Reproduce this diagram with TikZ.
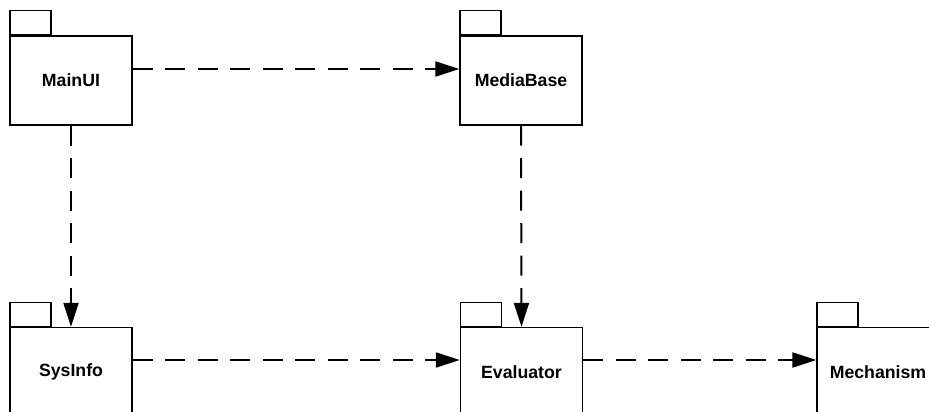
\documentclass[tikz,border=0pt]{standalone}
\usepackage{fontspec}
\setmainfont{Liberation Sans}
\usetikzlibrary{arrows.meta}
\begin{document}
\begin{tikzpicture}[x=1pt,y=-1pt,
  pkgbody/.style={draw, line width=1.3pt, minimum width=122pt, minimum height=89pt,
    inner sep=0pt, font=\fontsize{17.7}{20}\selectfont\bfseries},
  pkgtab/.style={draw, line width=1.3pt, minimum width=41pt, minimum height=24pt,
    inner sep=0pt, anchor=south west},
  dep/.style={line width=2pt, dash pattern=on 20pt off 12.5pt,
    -{Triangle[length=24pt,width=15pt]}}]
\useasboundingbox (0,0) rectangle (929,412);
% packages: body with the tab on its upper-left corner
\node[pkgbody] (MainUI) at (71,80.5) {MainUI};
\node[pkgtab] (MainUItab) at (MainUI.north west) {};
\node[pkgbody] (MediaBase) at (521,80.5) {MediaBase};
\node[pkgtab] (MediaBasetab) at (MediaBase.north west) {};
\node[pkgbody] (SysInfo) at (71,372) {SysInfo};
\node[pkgtab] (SysInfotab) at (SysInfo.north west) {};
\node[pkgbody] (Evaluator) at (521.5,372) {Evaluator};
\node[pkgtab] (Evaluatortab) at (Evaluator.north west) {};
\node[pkgbody] (Mechanism) at (878,372) {Mechanism};
\node[pkgtab] (Mechanismtab) at (Mechanism.north west) {};
% levels of the horizontal dependencies
\coordinate (row1) at (0,69);
\coordinate (row2) at (0,360);
% dependencies
\draw[dep] (MainUI.east |- row1) -- (MediaBase.west |- row1);
\draw[dep] (MainUI.south) -- (SysInfo.north);
\draw[dep] (MediaBase.south) -- (Evaluator.north);
\draw[dep] (SysInfo.east |- row2) -- (Evaluator.west |- row2);
\draw[dep] (Evaluator.east |- row2) -- (Mechanism.west |- row2);
\end{tikzpicture}
\end{document}
